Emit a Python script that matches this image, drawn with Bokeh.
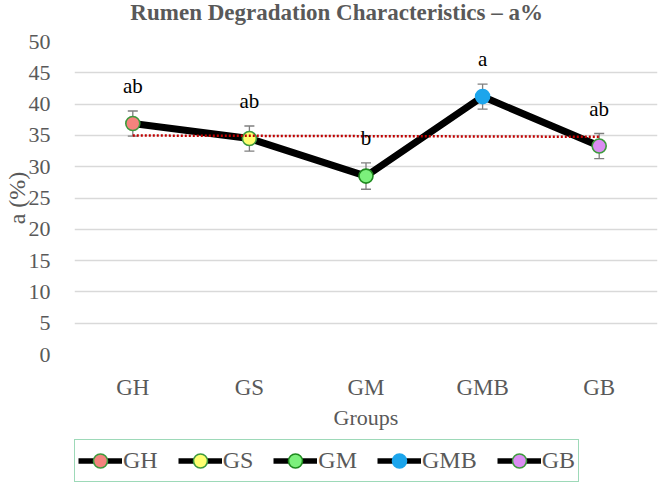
from bokeh.plotting import figure
from bokeh.layouts import column
from bokeh.models import (FactorRange, Range1d, FixedTicker, Whisker, TeeHead,
                          ColumnDataSource, Legend, LegendItem, Label)
from bokeh.core.properties import value
from bokeh.embed import file_html
from bokeh.resources import INLINE
import numpy as np

# ---- data ----
groups = ["GH", "GS", "GM", "GMB", "GB"]
a_pct = [36.9, 34.5, 28.5, 41.2, 33.3]
sd = [2.0, 2.0, 2.1, 2.0, 2.0]
letters = ["ab", "ab", "b", "a", "ab"]
fill_colors = ["#F4837D", "#FFFF70", "#7CF07C", "#1CA5EC", "#DA8CF2"]
edge_colors = ["#3E9A3E", "#3E9A3E", "#1F8A1F", "#1CA5EC", "#3E9A3E"]
y_ticks = [0, 5, 10, 15, 20, 25, 30, 35, 40, 45, 50]
title_text = "Rumen Degradation Characteristics \u2013 a%"

FONT = "Liberation Serif"
GREY = "#595959"
W = 661
LEFT, RIGHT = 70, 4


def blank(height):
    # strip whose frame is aligned with the main plot frame (column aligns frames)
    f = figure(width=W, height=height, x_range=Range1d(LEFT, W - RIGHT),
               y_range=Range1d(0, height),
               output_backend="svg", toolbar_location=None,
               x_axis_location=None, y_axis_location=None,
               min_border_left=LEFT, min_border_right=RIGHT,
               min_border_top=0, min_border_bottom=0)
    f.outline_line_color = None
    f.xgrid.grid_line_color = None
    f.ygrid.grid_line_color = None
    f.background_fill_color = "white"
    f.border_fill_color = "white"
    return f


# ---- title strip ----
tf = blank(30)
tf.add_layout(Label(x=334, y=18, text=title_text, text_font=FONT,
                    text_font_size="23px", text_font_style="bold",
                    text_color=GREY, text_align="center",
                    text_baseline="alphabetic"))

# ---- main plot ----
p = figure(width=W, height=402, x_range=FactorRange(*groups, range_padding=0),
           y_range=Range1d(0, 50), output_backend="svg", toolbar_location=None,
           min_border_left=LEFT, min_border_right=RIGHT, min_border_top=11,
           min_border_bottom=76)
p.outline_line_color = None
p.background_fill_color = "white"
p.border_fill_color = "white"

p.yaxis.ticker = FixedTicker(ticks=y_ticks)
for ax in (p.xaxis[0], p.yaxis[0]):
    ax.axis_line_color = None
    ax.major_tick_line_color = None
    ax.minor_tick_line_color = None
    ax.major_label_text_font = FONT
    ax.major_label_text_color = GREY
    ax.axis_label_text_font = FONT
    ax.axis_label_text_color = GREY
    ax.axis_label_text_font_style = "normal"
p.yaxis.major_label_text_font_size = "22px"
p.xaxis.major_label_text_font_size = "23px"
p.yaxis.axis_label_text_font_size = "24px"
p.xaxis.axis_label_text_font_size = "22px"
p.yaxis.major_label_standoff = 18
p.yaxis.axis_label = "a (%)"
p.yaxis.axis_label_standoff = -4
p.xaxis.major_label_standoff = 14
p.xaxis.axis_label = "Groups"
p.xaxis.axis_label_standoff = 2
p.xgrid.grid_line_color = None
p.ygrid.grid_line_color = "#D9D9D9"
p.ygrid.grid_line_width = 1.5

src = ColumnDataSource(dict(
    x=groups, y=a_pct,
    upper=[v + e for v, e in zip(a_pct, sd)],
    lower=[v - e for v, e in zip(a_pct, sd)],
    lab=letters))

line_r = p.line("x", "y", source=src, line_color="black", line_width=7,
                line_join="round")

wk = Whisker(base="x", upper="upper", lower="lower", source=src,
             line_color="#7F7F7F", line_width=1.3,
             upper_head=TeeHead(size=10, line_color="#7F7F7F", line_width=1.3),
             lower_head=TeeHead(size=10, line_color="#7F7F7F", line_width=1.3))
p.add_layout(wk)

for g, v, fc, ec in zip(groups, a_pct, fill_colors, edge_colors):
    p.scatter(x=[g], y=[v], size=14, fill_color=fc, line_color=ec, line_width=1.6)

# linear trend line (dotted dark red)
idx = np.arange(len(groups))
slope, icpt = np.polyfit(idx, a_pct, 1)
trend = [float(icpt + slope * i) for i in idx]
p.line(x=groups, y=trend, line_color="#C00000", line_width=2.5, line_dash="2 2")

p.text(x="x", y="upper", text="lab", source=src, text_font=value(FONT),
       text_font_size="21px", text_color="black", text_align="center",
       text_baseline="middle", y_offset=-25)

# ---- legend strip ----
lf = blank(52)
items = []
for g, fc, ec in zip(groups, fill_colors, edge_colors):
    # off-screen proxies: only their styles are used by the legend
    lr = lf.line(x=[-1000, -999], y=[-1000, -1000], line_color="black", line_width=5.5)
    mr = lf.scatter(x=[-1000], y=[-1000], fill_color=fc, line_color=ec, line_width=1.6)
    items.append(LegendItem(label=g, renderers=[lr, mr]))
legend = Legend(items=items, orientation="horizontal", location=(0, 2),
                label_text_font=FONT, label_text_font_size="24px",
                label_text_color=GREY, glyph_width=44, glyph_height=35,
                label_standoff=1, spacing=20, padding=3, margin=0,
                border_line_color="#3CB371", border_line_width=1.5,
                background_fill_color="white")
lf.add_layout(legend)

layout = column(tf, p, lf, spacing=0)
open("out.html", "w").write(file_html(layout, INLINE))
